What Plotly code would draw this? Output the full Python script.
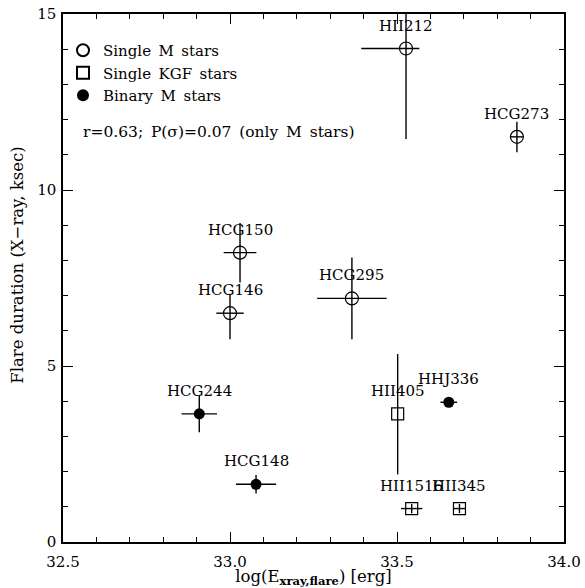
import plotly.graph_objects as go

# ---- data ----
m_names = ["HII212", "HCG273", "HCG150", "HCG146", "HCG295"]
m_x = [33.527, 33.859, 33.030, 33.000, 33.365]
m_y = [14.02, 11.51, 8.22, 6.50, 6.92]
m_xerr_plus = [0.040, 0.018, 0.049, 0.041, 0.104]
m_xerr_minus = [0.134, 0.018, 0.049, 0.041, 0.104]
m_yerr_plus = [0.98, 0.43, 0.84, 0.55, 1.16]
m_yerr_minus = [2.57, 0.44, 0.85, 0.74, 1.16]

k_names = ["HII405", "HII1516", "HII345"]
k_x = [33.502, 33.544, 33.687]
k_y = [3.64, 0.95, 0.95]
k_xerr = [0.0, 0.032, 0.017]
k_yerr_plus = [1.70, 0.13, 0.13]
k_yerr_minus = [1.72, 0.13, 0.13]

b_names = ["HCG244", "HCG148", "HHJ336"]
b_x = [32.908, 33.078, 33.655]
b_y = [3.64, 1.64, 3.97]
b_xerr = [0.053, 0.060, 0.025]
b_yerr = [0.52, 0.26, 0.08]

x_ticks = [32.5, 33.0, 33.5, 34.0]
y_ticks = [0, 5, 10, 15]

FONT = "DejaVu Serif"
SP = "\u2002"
err_style = dict(color="black", thickness=1.4, width=0)

fig = go.Figure()
fig.add_trace(go.Scatter(
    x=m_x, y=m_y, mode="markers", name=f"Single{SP}M{SP}stars",
    marker=dict(symbol="circle-open", size=13, color="black", line=dict(width=1.2)),
    error_x=dict(type="data", symmetric=False, array=m_xerr_plus, arrayminus=m_xerr_minus, **err_style),
    error_y=dict(type="data", symmetric=False, array=m_yerr_plus, arrayminus=m_yerr_minus, **err_style),
))
fig.add_trace(go.Scatter(
    x=k_x, y=k_y, mode="markers", name=f"Single{SP}KGF{SP}stars",
    marker=dict(symbol="square-open", size=12, color="black", line=dict(width=1.2)),
    error_x=dict(type="data", array=k_xerr, **err_style),
    error_y=dict(type="data", symmetric=False, array=k_yerr_plus, arrayminus=k_yerr_minus, **err_style),
))
fig.add_trace(go.Scatter(
    x=b_x, y=b_y, mode="markers", name=f"Binary{SP}M{SP}stars",
    marker=dict(symbol="circle", size=11, color="black"),
    error_x=dict(type="data", array=b_xerr, **err_style),
    error_y=dict(type="data", array=b_yerr, **err_style),
))

for names, xs, ys in [(m_names, m_x, m_y), (k_names, k_x, k_y), (b_names, b_x, b_y)]:
    for n, xv, yv in zip(names, xs, ys):
        fig.add_annotation(x=xv, y=yv, text=n, showarrow=False, xanchor="center",
                           yanchor="bottom", yshift=12,
                           font=dict(family=FONT, size=15, color="black"))

fig.add_annotation(xref="paper", yref="paper", x=0.035, y=0.777, xanchor="left", yanchor="middle",
                   text=f"r=0.63;{SP}P(σ)=0.07{SP}(only{SP}M{SP}stars)", showarrow=False,
                   font=dict(family=FONT, size=15.5, color="black"))

# y-axis title as rotated annotation
fig.add_annotation(xref="paper", yref="paper", x=-0.09, y=0.525, xanchor="center", yanchor="middle",
                   text="Flare duration (X−ray, ksec)", textangle=-90, showarrow=False,
                   font=dict(family=FONT, size=16.5, color="black"))

axis_common = dict(showline=True, linecolor="black", linewidth=1.5, mirror="allticks",
                   ticks="inside", tickcolor="black", tickwidth=1.2, ticklen=10,
                   showgrid=False, zeroline=False, automargin=False,
                   tickfont=dict(family=FONT, size=15, color="black"))

fig.update_xaxes(range=[32.5, 34.0], tickvals=x_ticks, ticktext=[f"{v:.1f}" for v in x_ticks],
                 minor=dict(ticks="inside", dtick=0.1, ticklen=5, tickcolor="black", tickwidth=1.2),
                 ticklabelstandoff=5,
                 title=dict(text="log(E<sub><b>xray,flare</b></sub>) [erg]", standoff=5,
                            font=dict(family=FONT, size=16.5, color="black")),
                 **axis_common)
fig.update_yaxes(range=[0, 15], tickvals=y_ticks, ticktext=[str(v) for v in y_ticks],
                 minor=dict(ticks="inside", dtick=1, ticklen=5, tickcolor="black", tickwidth=1.2),
                 ticklabelstandoff=2,
                 **axis_common)

fig.update_layout(
    width=585, height=588,
    margin=dict(l=63, r=21, t=14, b=46),
    plot_bgcolor="white", paper_bgcolor="white",
    showlegend=True,
    legend=dict(x=0.0, y=0.962, xanchor="left", yanchor="top", bgcolor="rgba(0,0,0,0)",
                font=dict(family=FONT, size=15, color="black"), itemsizing="constant",
                tracegroupgap=0, itemwidth=30),
)

fig.write_html("out.html")
